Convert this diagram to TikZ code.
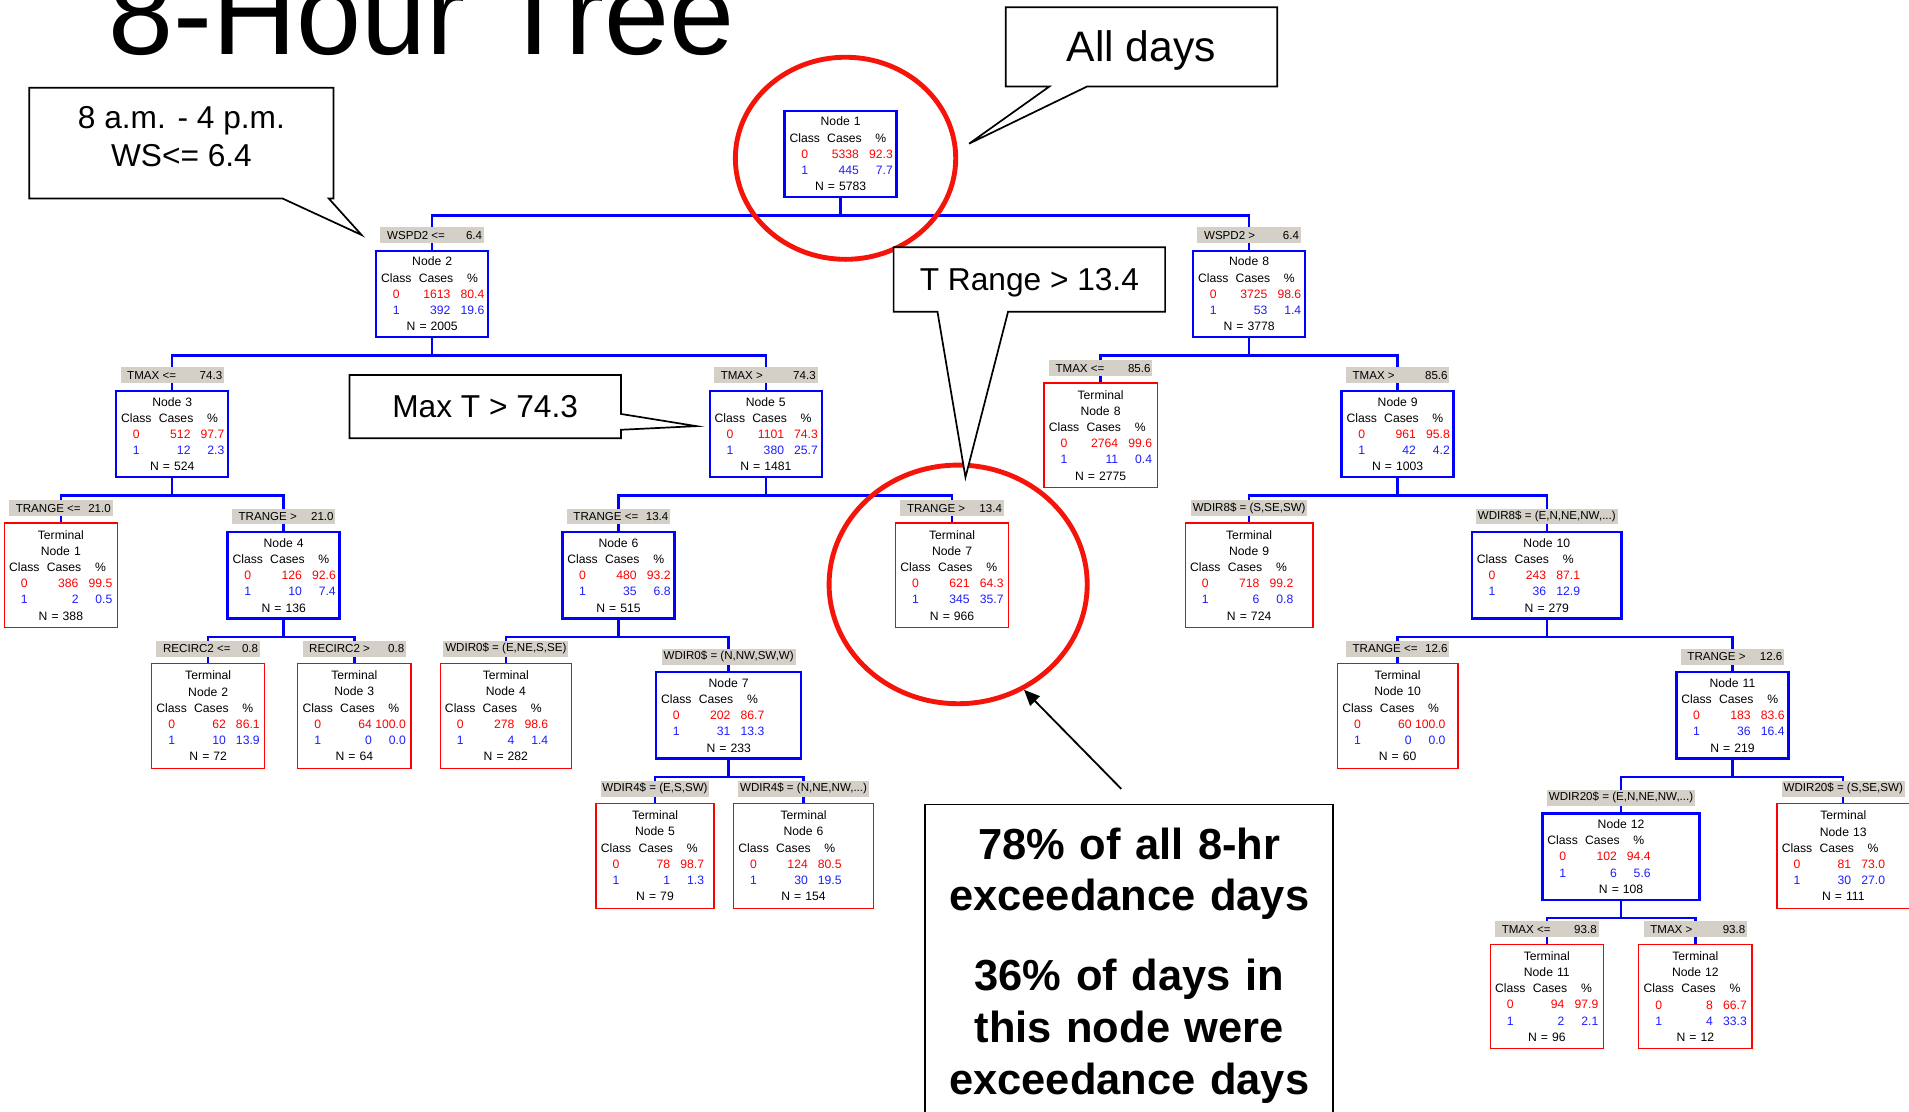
\documentclass[tikz,border=0pt]{standalone}
\usepackage{fontspec}
\setmainfont{Liberation Sans}
\usetikzlibrary{arrows.meta,calc,positioning,shapes.geometric}

\definecolor{treeblue}{RGB}{0,0,255}
\definecolor{cls0}{RGB}{255,0,0}
\definecolor{cls1}{RGB}{30,30,255}
\definecolor{splitgray}{RGB}{212,208,200}
\definecolor{ringred}{RGB}{245,20,10}

\newcommand{\boxfont}{\fontsize{10}{13.3}\selectfont}
\newcommand{\lblfont}{\fontsize{9.5}{11}\selectfont}
\newcommand{\calfont}{\fontsize{26}{31}\selectfont}
\newcommand{\bigcalfont}{\fontsize{35}{40}\selectfont}
\newcommand{\notefnt}{\fontsize{35.7}{42.5}\selectfont\bfseries}
\newcommand{\ttlfont}{\fontsize{96}{110}\selectfont}

% one line of the class table
\newcommand{\statline}[1]{\makebox[\hsize][l]{\hspace{4pt}#1}}
\newcommand{\hdr}{\makebox[25pt]{Class}\hspace{6pt}\makebox[28.3pt]{Cases}\hspace{6pt}\makebox[19.5pt]{\%}}
\newcommand{\crow}[4]{\textcolor{#1}{\makebox[25pt]{#2}\hspace{6pt}\makebox[26pt][r]{#3}\hspace{8.3pt}\makebox[19.5pt][r]{#4}}}
\newcommand{\stats}[6]{#1\\\statline{\hdr}\\\statline{\crow{cls0}{0}{#2}{#3}}\\\statline{\crow{cls1}{1}{#4}{#5}}\\N = #6}
\newcommand{\splitcond}[2]{\makebox[82pt]{\hspace{4pt}#1\hfill#2}}

\tikzset{%
	branchbox/.style = {draw=treeblue, line width=2pt, fill=white, rectangle, inner xsep=0pt, inner ysep=0pt, text width=#1, minimum height=71pt, align=center, font=\boxfont},
	branchbox/.default = 92pt,
	leafbox/.style   = {draw=cls0, line width=1pt, fill=white, rectangle, inner xsep=0pt, inner ysep=0pt, text width=#1, minimum height=86pt, align=center, font=\boxfont},
	leafbox/.default = 93pt,
	splitlbl/.style  = {fill=splitgray, inner xsep=1.5pt, inner ysep=0pt, minimum height=13pt, font=\lblfont},
	link/.style      = {draw=treeblue, line width=2pt},
	ring/.style      = {draw=ringred, line width=4pt, ellipse, inner sep=0pt},
	callbox/.style   = {draw=black, line width=1.4pt, fill=white, line join=miter},
	calltext/.style  = {font=\calfont, inner sep=0pt},
	notebox/.style   = {draw=black, line width=1.6pt, fill=white, inner xsep=5pt, inner ysep=19pt, text width=325pt, align=center, font=\notefnt},
	pointarrow/.style = {line width=1.5pt, -{Triangle[length=13pt,width=11pt]}},
}

\begin{document}
\begin{tikzpicture}[x=1pt,y=-1pt]
	\useasboundingbox (0,0) rectangle (1568,913);
	\fill[white] (0,0) rectangle (1568,913);
	
	\node[anchor=base west, font=\ttlfont, inner sep=0pt] (title) at (89,45) {8-Hour Tree};
	
	% tree boxes
	\node[branchbox] (n1) at (690.5,126.5) {\stats{Node 1}{5338}{92.3}{445}{7.7}{5783}};
	\node[branchbox] (n2) at (355,241.5) {\stats{Node 2}{1613}{80.4}{392}{19.6}{2005}};
	\node[branchbox] (n8) at (1026,241.5) {\stats{Node 8}{3725}{98.6}{53}{1.4}{3778}};
	\node[branchbox] (n3) at (141.5,356.5) {\stats{Node 3}{512}{97.7}{12}{2.3}{524}};
	\node[branchbox] (n5) at (629,356.5) {\stats{Node 5}{1101}{74.3}{380}{25.7}{1481}};
	\node[leafbox] (t8) at (904,357.5) {\stats{Terminal\\Node 8}{2764}{99.6}{11}{0.4}{2775}};
	\node[branchbox] (n9) at (1148,356.5) {\stats{Node 9}{961}{95.8}{42}{4.2}{1003}};
	\node[leafbox] (t1) at (50,472.5) {\stats{Terminal\\Node 1}{386}{99.5}{2}{0.5}{388}};
	\node[branchbox] (n4) at (233,472.5) {\stats{Node 4}{126}{92.6}{10}{7.4}{136}};
	\node[branchbox] (n6) at (508,472.5) {\stats{Node 6}{480}{93.2}{35}{6.8}{515}};
	\node[leafbox] (t7) at (782,472.5) {\stats{Terminal\\Node 7}{621}{64.3}{345}{35.7}{966}};
	\node[leafbox=105pt] (t9) at (1026,472.5) {\stats{Terminal\\Node 9}{718}{99.2}{6}{0.8}{724}};
	\node[branchbox=123pt] (n10) at (1270.5,472.5) {\stats{Node 10}{243}{87.1}{36}{12.9}{279}};
	\node[leafbox] (t2) at (171,588) {\stats{Terminal\\Node 2}{62}{86.1}{10}{13.9}{72}};
	\node[leafbox] (t3) at (291,588) {\stats{Terminal\\Node 3}{64}{100.0}{0}{0.0}{64}};
	\node[leafbox=108pt] (t4) at (415.5,588) {\stats{Terminal\\Node 4}{278}{98.6}{4}{1.4}{282}};
	\node[branchbox=119pt] (n7) at (598.5,587.5) {\stats{Node 7}{202}{86.7}{31}{13.3}{233}};
	\node[leafbox=99pt] (t10) at (1148,588) {\stats{Terminal\\Node 10}{60}{100.0}{0}{0.0}{60}};
	\node[branchbox] (n11) at (1423,587.5) {\stats{Node 11}{183}{83.6}{36}{16.4}{219}};
	\node[leafbox=97pt] (t5) at (538,703) {\stats{Terminal\\Node 5}{78}{98.7}{1}{1.3}{79}};
	\node[leafbox=115pt] (t6) at (660,703) {\stats{Terminal\\Node 6}{124}{80.5}{30}{19.5}{154}};
	\node[branchbox=129pt] (n12) at (1331.5,703.5) {\stats{Node 12}{102}{94.4}{6}{5.6}{108}};
	\node[leafbox=109pt] (t13) at (1514,703) {\stats{Terminal\\Node 13}{81}{73.0}{30}{27.0}{111}};
	\node[leafbox] (t11) at (1270.5,818.5) {\stats{Terminal\\Node 11}{94}{97.9}{2}{2.1}{96}};
	\node[leafbox] (t12) at (1392.5,818.5) {\stats{Terminal\\Node 12}{8}{66.7}{4}{33.3}{12}};
	
	% branches
	\foreach \p/\c in {n1/n2, n1/n8, n2/n3, n2/n5, n8/t8, n8/n9, n3/t1, n3/n4, n5/n6, n5/t7,
		n9/t9, n9/n10, n4/t2, n4/t3, n6/t4, n6/n7, n10/t10, n10/n11, n7/t5, n7/t6,
		n11/n12, n11/t13, n12/t11, n12/t12}
		\draw[link] (\p.south) -- ++(0,14) -| (\c.north);
	
	% split conditions
	\node[splitlbl, above=5pt of n2] (s2) {\splitcond{WSPD2 <=}{6.4}};
	\node[splitlbl, above=5pt of n8] (s8) {\splitcond{WSPD2 >}{6.4}};
	\node[splitlbl, above=5pt of n3] (s3) {\splitcond{TMAX <=}{74.3}};
	\node[splitlbl, above=5pt of n5] (s5) {\splitcond{TMAX >}{74.3}};
	\node[splitlbl, above=5pt of t8] (st8) {\splitcond{TMAX <=}{85.6}};
	\node[splitlbl, above=5pt of n9] (s9) {\splitcond{TMAX >}{85.6}};
	\node[splitlbl, above=5pt of t1] (st1) {\splitcond{TRANGE <=}{21.0}};
	\node[splitlbl, above=5pt of n4] (s4) {\splitcond{TRANGE >}{21.0}};
	\node[splitlbl, above=5pt of n6] (s6) {\splitcond{TRANGE <=}{13.4}};
	\node[splitlbl, above=5pt of t7] (st7) {\splitcond{TRANGE >}{13.4}};
	\node[splitlbl, above=5pt of t9] (st9) {WDIR8\$ = (S,SE,SW)};
	\node[splitlbl, above=5pt of n10] (s10) {WDIR8\$ = (E,N,NE,NW,...)};
	\node[splitlbl, above=5pt of t2] (st2) {\splitcond{RECIRC2 <=}{0.8}};
	\node[splitlbl, above=5pt of t3] (st3) {\splitcond{RECIRC2 >}{0.8}};
	\node[splitlbl, above=5pt of t4] (st4) {WDIR0\$ = (E,NE,S,SE)};
	\node[splitlbl, above=5pt of n7] (s7) {WDIR0\$ = (N,NW,SW,W)};
	\node[splitlbl, above=5pt of t10] (st10) {\splitcond{TRANGE <=}{12.6}};
	\node[splitlbl, above=5pt of n11] (s11) {\splitcond{TRANGE >}{12.6}};
	\node[splitlbl, above=5pt of t5] (st5) {WDIR4\$ = (E,S,SW)};
	\node[splitlbl, above=5pt of t6] (st6) {WDIR4\$ = (N,NE,NW,...)};
	\node[splitlbl, above=5pt of n12] (s12) {WDIR20\$ = (E,N,NE,NW,...)};
	\node[splitlbl, above=5pt of t13] (st13) {WDIR20\$ = (S,SE,SW)};
	\node[splitlbl, above=5pt of t11] (st11) {\splitcond{TMAX <=}{93.8}};
	\node[splitlbl, above=5pt of t12] (st12) {\splitcond{TMAX >}{93.8}};
	
	% highlight rings
	\node[ring, minimum width=181pt, minimum height=166pt] (ring1) at (694.5,130) {};
	\node[ring, minimum width=212pt, minimum height=196pt] (ring7) at (787,480) {};
	
	% callouts
	\draw[callbox] (24,72) -- (274,72) -- (274,163) -- (270,163) -- (297,193) -- (232,163) -- (24,163) -- cycle;
	\node[calltext, align=center] (cWS) at (149,112.5) {8 a.m. - 4 p.m.\\WS<= 6.4};
	\draw[callbox] (826,6) -- (1049,6) -- (1049,71) -- (893,71) -- (796,118) -- (862,71) -- (826,71) -- cycle;
	\node[calltext, font=\bigcalfont, anchor=base] (cAll) at (937.5,50.5) {All days};
	\draw[callbox] (734,203) -- (957,203) -- (957,256) -- (828,256) -- (793,392) -- (770,256) -- (734,256) -- cycle;
	\node[calltext, anchor=base] (cTR) at (845.5,238.3) {T Range > 13.4};
	\draw[callbox] (287,308) -- (510,308) -- (510,340) -- (572,350) -- (510,353) -- (510,360) -- (287,360) -- cycle;
	\node[calltext, anchor=base] (cMT) at (398.5,343.3) {Max T > 74.3};
	
	\node[notebox, anchor=north] (note) at (927.5,660) {78\% of all 8-hr\\exceedance days\\[23pt]36\% of days in\\this node were\\exceedance days};
	\coordinate (arrtail) at (921,648);
	\draw[pointarrow] (arrtail) -- (ring7.-58);
\end{tikzpicture}
\end{document}
